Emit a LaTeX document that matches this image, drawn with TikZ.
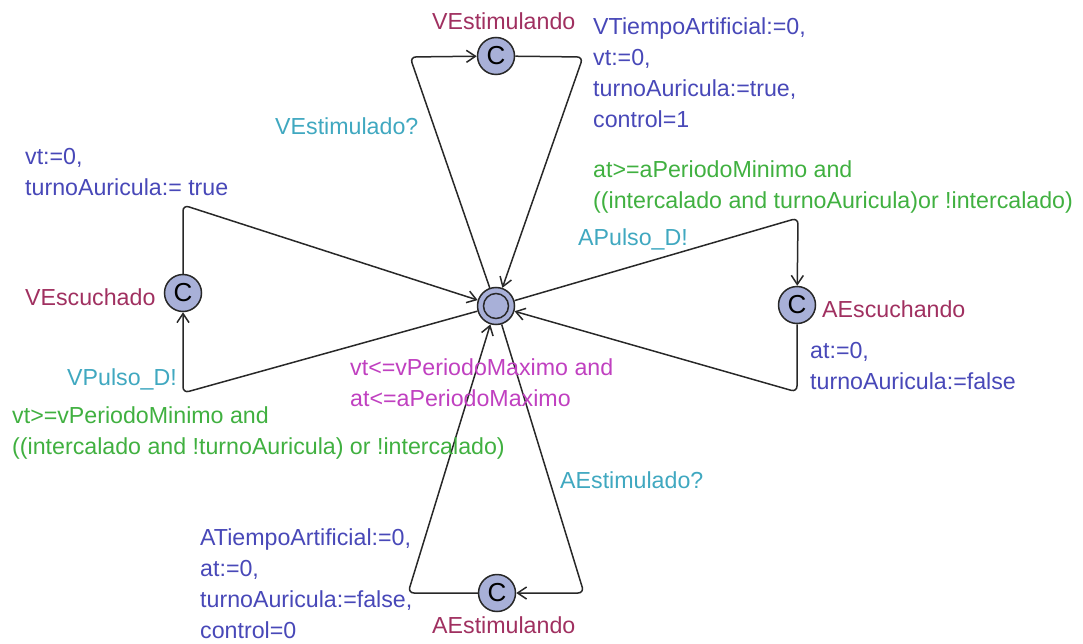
\documentclass[tikz,border=0pt]{standalone}
\usepackage{fontspec}
\setmainfont{Liberation Sans}
\usetikzlibrary{arrows.meta}
\definecolor{locname}{RGB}{160,48,96}
\definecolor{assigncol}{RGB}{72,72,184}
\definecolor{guardcol}{RGB}{64,176,64}
\definecolor{synccol}{RGB}{64,168,192}
\definecolor{invcol}{RGB}{192,64,192}
\definecolor{locfill}{RGB}{168,176,216}
\definecolor{linecol}{RGB}{40,40,40}
\begin{document}
\begin{tikzpicture}[x=1pt,y=-1pt,
  loc/.style={circle, draw=linecol, line width=1.5pt, fill=locfill, minimum size=37pt, inner sep=0pt, font=\fontsize{26}{26}\selectfont},
  initloc/.style={loc, path picture={\draw[linecol, line width=1.5pt] (path picture bounding box.center) circle (12.5pt);}},
  edge/.style={draw=linecol, line width=1.5pt, rounded corners=6pt, -{Straight Barb[length=9pt,width=12pt]}},
  lbl/.style={anchor=base west, inner sep=0pt, align=left, font=\fontsize{23.2}{31}\selectfont},
  lname/.style={lbl, text=locname},
  lassign/.style={lbl, text=assigncol},
  lguard/.style={lbl, text=guardcol},
  lsync/.style={lbl, text=synccol},
  linv/.style={lbl, text=invcol}]
\useasboundingbox (0,0) rectangle (1083,644);

% locations
\node[initloc] (c) at (496,306) {};
\node[loc] (ves) at (496,56) {C};
\node[loc] (vesc) at (183,293) {C};
\node[loc] (aesc) at (797,305) {C};
\node[loc] (aest) at (497,593) {C};

% corners
\coordinate (k1) at (410,57);
\coordinate (k2) at (583,57);
\coordinate (k3) at (183,393);
\coordinate (k4) at (183,205);
\coordinate (k5) at (798,218);
\coordinate (k6) at (797,392);
\coordinate (k7) at (584,593);
\coordinate (k8) at (408,593);

% edges
\draw[edge] (c) -- (k1) -- (ves);
\draw[edge] (ves) -- (k2) -- (c);
\draw[edge] (c) -- (k3) -- (vesc);
\draw[edge] (vesc) -- (k4) -- (c);
\draw[edge] (c) -- (k5) -- (aesc);
\draw[edge] (aesc) -- (k6) -- (c);
\draw[edge] (c) -- (k7) -- (aest);
\draw[edge] (aest) -- (k8) -- (c);

% location names
\node[lname] (n1) at (432,30) {VEstimulando};
\node[lname] (n2) at (25,305) {VEscuchado};
\node[lname] (n3) at (822,317) {AEscuchando};
\node[lname] (n4) at (432,633) {AEstimulando};

% invariant (base anchor = last line)
\node[linv] (inv) at (350,406) {vt<=vPeriodoMaximo and\\at<=aPeriodoMaximo};

% labels (base anchor = last line)
\node[lassign] (a1) at (593,128) {VTiempoArtificial:=0,\\vt:=0,\\turnoAuricula:=true,\\control=1};
\node[lsync] (s1) at (275,135) {VEstimulado?};
\node[lassign] (a2) at (25,196) {vt:=0,\\turnoAuricula:= true};
\node[lguard] (g1) at (593,209) {at>=aPeriodoMinimo and\\((intercalado and turnoAuricula)or !intercalado)};
\node[lsync] (s2) at (578,245) {APulso\_D!};
\node[lassign] (a3) at (810,389) {at:=0,\\turnoAuricula:=false};
\node[lsync] (s3) at (67,385) {VPulso\_D!};
\node[lguard] (g2) at (12,454) {vt>=vPeriodoMinimo and\\((intercalado and !turnoAuricula) or !intercalado)};
\node[lsync] (s4) at (560,488) {AEstimulado?};
\node[lassign] (a4) at (200,638) {ATiempoArtificial:=0,\\at:=0,\\turnoAuricula:=false,\\control=0};
\end{tikzpicture}
\end{document}
